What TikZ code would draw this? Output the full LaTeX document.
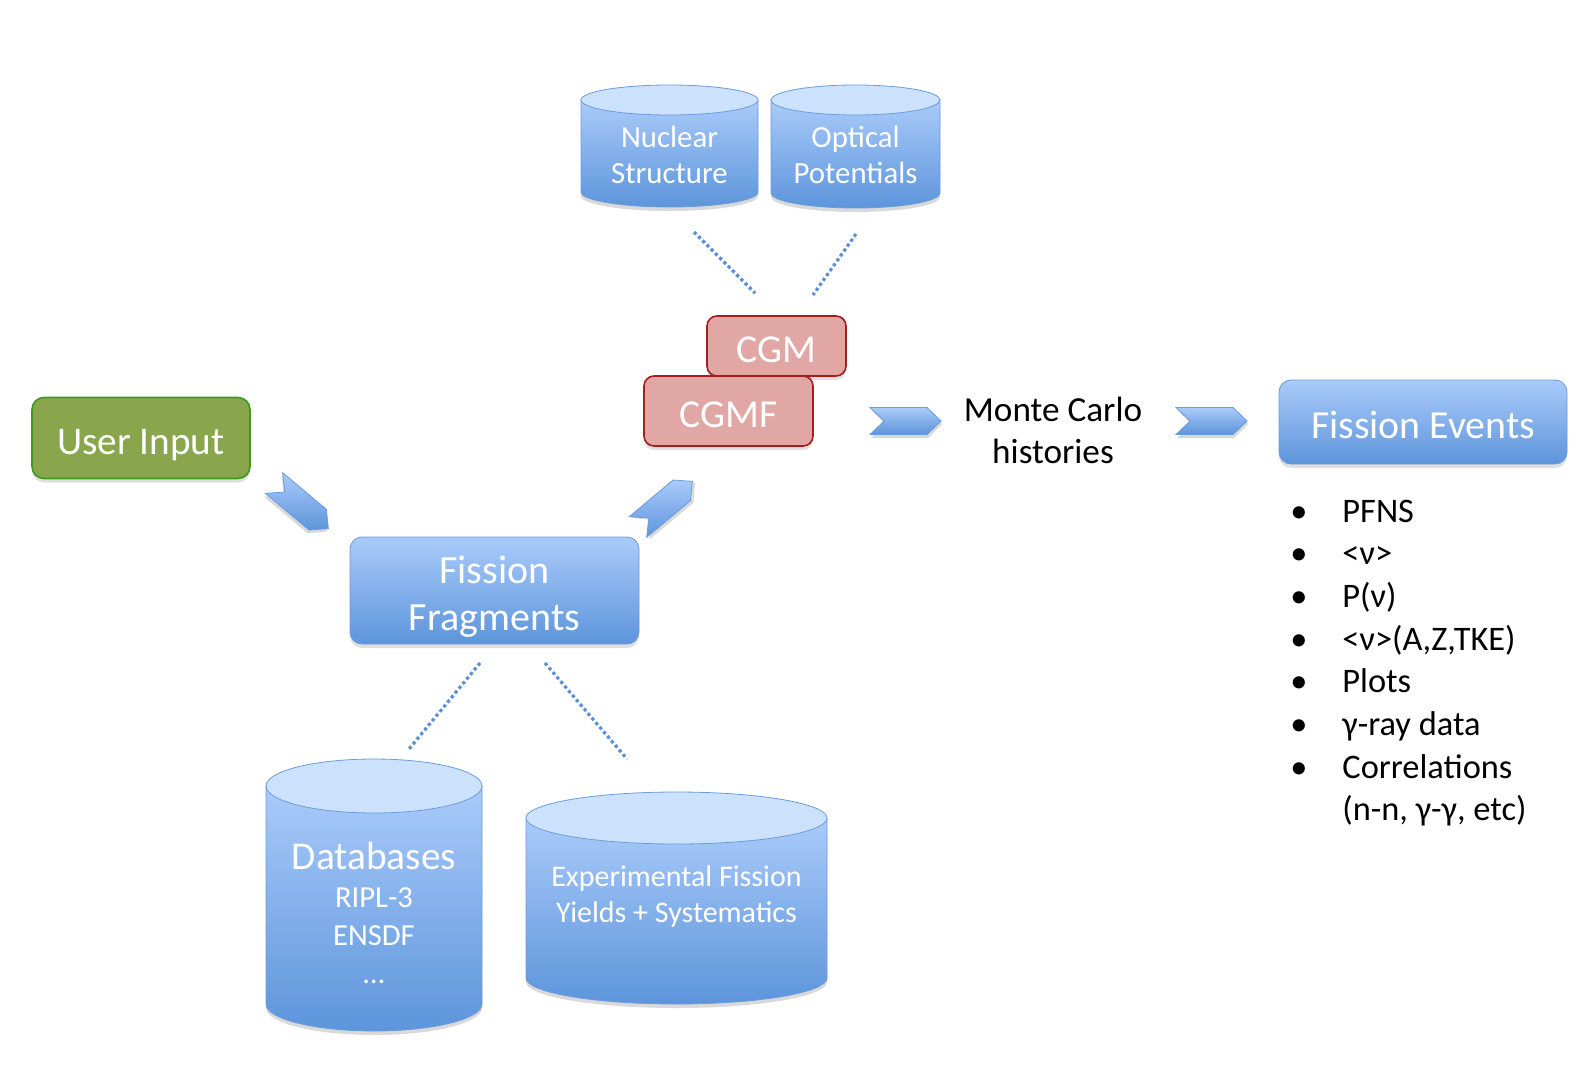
\documentclass[tikz,border=0pt]{standalone}
\usepackage{fontspec}
\setmainfont{Carlito}
\usetikzlibrary{shadows}

\definecolor{boxtop}{HTML}{AACBFA}
\definecolor{boxbot}{HTML}{5D95DB}
\definecolor{boxline}{HTML}{6B9CDC}
\definecolor{lidfill}{HTML}{CCE1FB}
\definecolor{cgmfill}{HTML}{E0A7A4}
\definecolor{cgmline}{HTML}{A31E1E}
\definecolor{userfill}{HTML}{8AA64C}
\definecolor{userline}{HTML}{3E9A1F}
\definecolor{dotline}{HTML}{5B8FD6}

% cylinder: centre x, top y, bottom y, half width, lid radius
\newcommand{\drum}[5]{%
  \fill[black,opacity=.15] (#1-#4,-#2-#5-4) -- (#1-#4,-#3+#5-4)
    arc[start angle=180,end angle=360,x radius=#4,y radius=#5] -- (#1+#4,-#2-#5-4) -- cycle;
  \shade[top color=boxtop,bottom color=boxbot,draw=boxline] (#1-#4,-#2-#5) -- (#1-#4,-#3+#5)
    arc[start angle=180,end angle=360,x radius=#4,y radius=#5] -- (#1+#4,-#2-#5) -- cycle;
  \filldraw[fill=lidfill,draw=boxline] (#1,-#2-#5) ellipse[x radius=#4,y radius=#5];
}

\tikzset{
  chevron/.pic={
    \fill[black,opacity=.15] (1,11) -- (58,11) -- (72,-3) -- (58,-17) -- (1,-17) -- (15,-3) -- cycle;
    \shade[top color=boxtop,bottom color=boxbot,draw=boxline]
      (0,13.5) -- (57,13.5) -- (71,0) -- (57,-13.5) -- (0,-13.5) -- (14,0) -- cycle;
  }
}

\begin{document}
\begin{tikzpicture}[x=0.5pt,y=0.5pt,
    softshadow/.style={drop shadow={shadow xshift=0pt,shadow yshift=-2pt,opacity=.25}},
    bluebox/.style={rounded corners=6pt,draw=boxline,top color=boxtop,bottom color=boxbot,
      text=white,align=center,softshadow,text depth=0pt},
    codebox/.style={rounded corners=5pt,draw=cgmline,line width=.8pt,fill=cgmfill,
      text=white,softshadow,text depth=0pt,font=\fontsize{19.8}{23}\selectfont},
    userbox/.style={rounded corners=6pt,draw=userline,line width=.8pt,fill=userfill,
      text=white,softshadow,text depth=0pt,font=\fontsize{19.6}{23}\selectfont},
    drumtext/.style={text=white,align=center,inner sep=0pt},
    dotlink/.style={dotline,line width=1.6pt,dash pattern=on 1.6pt off 1.4pt},
    itemtext/.style={anchor=base west,inner sep=0pt,font=\fontsize{17.2}{21}\selectfont},
    bulletdot/.style={anchor=base,inner sep=0pt,font=\fontsize{17.2}{21}\selectfont}]
  \useasboundingbox (0,0) rectangle (1582,-1086);

  % databases
  \drum{669.5}{85}{207}{88.5}{15}
  \drum{855.5}{85}{208}{84.5}{15}
  \drum{374}{759}{1031}{108}{27}
  \drum{676.5}{792}{1004}{150.5}{26}

  \node[drumtext,font=\fontsize{15.4}{17.7}\selectfont] (nuc) at (669.5,-155) {Nuclear\\Structure};
  \node[drumtext,font=\fontsize{15.4}{17.7}\selectfont] (opt) at (855.5,-155) {Optical\\Potentials};
  \node[drumtext,font=\fontsize{15.3}{19}\selectfont] (dbs) at (374,-913)
    {{\fontsize{19.7}{23}\selectfont Databases}\\RIPL-3\\ENSDF\\\dots};
  \node[drumtext,font=\fontsize{15}{18}\selectfont] (exp) at (676.5,-896)
    {Experimental Fission\\Yields + Systematics};

  % boxes
  \node[userbox,minimum width=109pt,minimum height=40.5pt,text height=16.1pt] (user) at (141,-438) {User Input};
  \node[bluebox,minimum width=144.5pt,minimum height=53.5pt,text height=39.5pt,
    font=\fontsize{20}{23.2}\selectfont] (frag) at (494.5,-590.5) {Fission\\Fragments};
  \node[codebox,minimum width=69.5pt,minimum height=30pt,text height=16.8pt] (cgm) at (776.5,-346) {CGM};
  \node[codebox,minimum width=84.5pt,minimum height=35pt,text height=16.5pt] (cgmf) at (728.5,-411) {CGMF};
  \node[align=center,font=\fontsize{17.6}{21}\selectfont] (mc) at (1053,-430) {Monte Carlo\\histories};
  \node[bluebox,minimum width=144pt,minimum height=42pt,text height=16.8pt,
    font=\fontsize{19.9}{23}\selectfont] (events) at (1423,-422) {Fission Events};

  % arrows
  \pic (chuser) at (274,-483) [rotate=-40] {chevron};
  \pic (chfrag) at (638,-527) [rotate=40] {chevron};
  \pic (chcgmf) at (870,-421) {chevron};
  \pic (chmc) at (1176,-421) {chevron};

  % dotted links
  \coordinate (nuc-end) at (694,-232);
  \coordinate (cgm-nw) at (755,-293);
  \coordinate (opt-end) at (856,-234);
  \coordinate (cgm-ne) at (813,-295);
  \coordinate (frag-sw) at (480,-663);
  \coordinate (dbs-end) at (409,-749);
  \coordinate (frag-se) at (545,-663);
  \coordinate (exp-end) at (627,-759);
  \draw[dotlink] (nuc-end) -- (cgm-nw);
  \draw[dotlink] (opt-end) -- (cgm-ne);
  \draw[dotlink] (frag-sw) -- (dbs-end);
  \draw[dotlink] (frag-se) -- (exp-end);

  % output list
  \foreach \txt [count=\i from 0] in {PFNS, <ν>, P(ν), {<ν>(A,Z,TKE)}, Plots, γ-ray data, Correlations} {
    \node[bulletdot] (dot\i) at (1299,{-522-42.7*\i}) {•};
    \node[itemtext] (item\i) at (1342,{-522-42.7*\i}) {\txt};
  }
  \node[itemtext] (item7) at (1342,-820) {(n-n, γ-γ, etc)};
\end{tikzpicture}
\end{document}
